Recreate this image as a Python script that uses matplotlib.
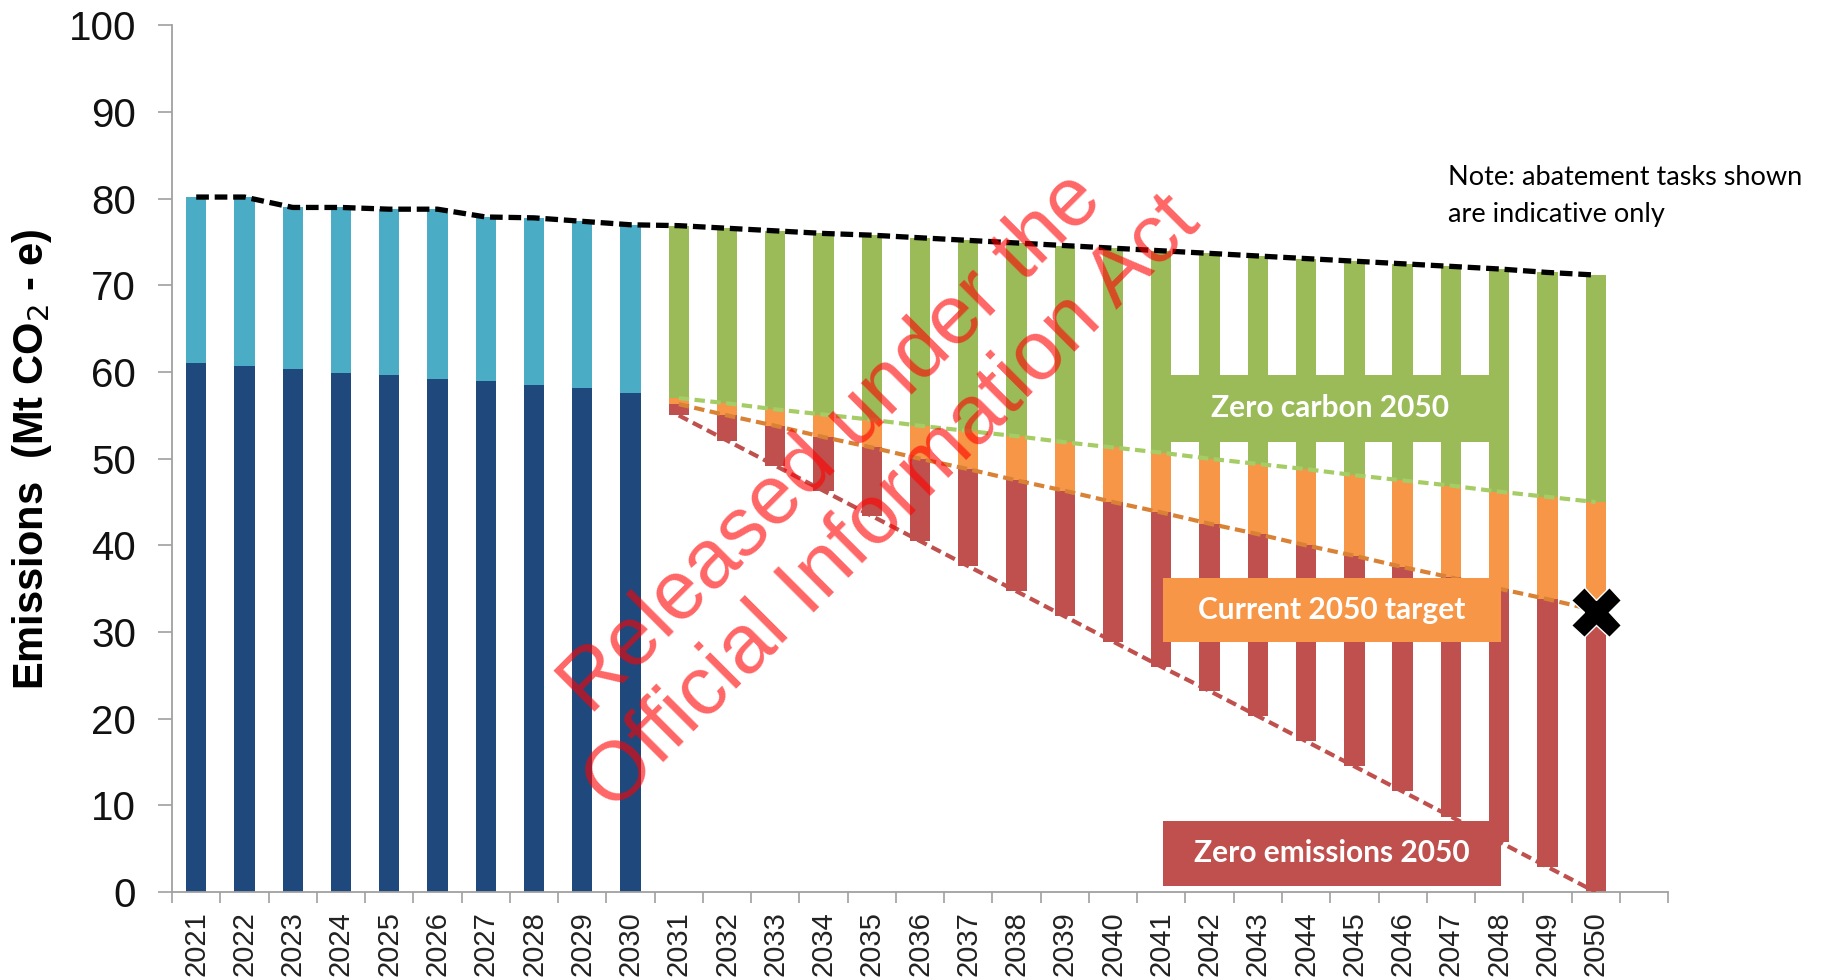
import numpy as np
import matplotlib
matplotlib.use("Agg")
import matplotlib.pyplot as plt
from matplotlib.patches import Rectangle

# historical / projected years
years_hist = [2021, 2022, 2023, 2024, 2025, 2026, 2027, 2028, 2029, 2030]
years_fut = list(range(2031, 2051))
years = years_hist + years_fut

# total emissions (black dashed line = top of each bar)
total = [80.2, 80.2, 79.0, 79.0, 78.8, 78.8, 77.9, 77.8, 77.4, 77.0,
         76.9, 76.6, 76.3, 76.0, 75.8, 75.5, 75.2, 74.9, 74.6, 74.3,
         74.0, 73.7, 73.4, 73.1, 72.8, 72.5, 72.2, 71.9, 71.5, 71.2]
# 2021-2030 lower (dark blue) segment
dark_blue = [61.0, 60.7, 60.3, 59.9, 59.7, 59.2, 59.0, 58.5, 58.2, 57.6]

# 2031-2050 pathway boundaries
green_line = [57.0, 56.4, 55.7, 55.1, 54.5, 53.8, 53.2, 52.6, 51.9, 51.3,
              50.7, 50.0, 49.4, 48.8, 48.1, 47.5, 46.9, 46.2, 45.6, 45.0]
orange_line = [56.3, 55.0, 53.8, 52.5, 51.3, 50.0, 48.8, 47.5, 46.3, 45.0,
               43.8, 42.5, 41.3, 40.0, 38.8, 37.5, 36.3, 35.0, 33.8, 32.5]
red_line = [55.0, 52.1, 49.2, 46.3, 43.4, 40.5, 37.6, 34.7, 31.8, 28.9,
            26.0, 23.2, 20.3, 17.4, 14.5, 11.6, 8.7, 5.8, 2.9, 0.0]

target_2050 = 32.3

C_DBLUE = "#1F497D"
C_LBLUE = "#4BACC6"
C_GREEN = "#9BBB59"
C_ORANGE = "#F79646"
C_RED = "#C0504D"

fig = plt.figure(figsize=(18.23, 9.80), dpi=100)
ax = fig.add_axes([0.0944, 0.0898, 0.8206, 0.8842])

w = 0.42
n_hist = len(years_hist)
xh = np.arange(n_hist)
xf = np.arange(n_hist, len(years))

# historical stacked bars
ax.bar(xh, dark_blue, width=w, color=C_DBLUE, zorder=2)
top_hist = [t - d for t, d in zip(total[:n_hist], dark_blue)]
ax.bar(xh, top_hist, bottom=dark_blue, width=w, color=C_LBLUE, zorder=2)

# future abatement bars
red_h = [o - r for o, r in zip(orange_line, red_line)]
orange_h = [g - o for g, o in zip(green_line, orange_line)]
green_h = [t - g for t, g in zip(total[n_hist:], green_line)]
ax.bar(xf, red_h, bottom=red_line, width=w, color=C_RED, zorder=2)
ax.bar(xf, orange_h, bottom=orange_line, width=w, color=C_ORANGE, zorder=2)
ax.bar(xf, green_h, bottom=green_line, width=w, color=C_GREEN, zorder=2)

# dashed pathway lines
ax.plot(np.arange(len(years)), total, color="black", lw=3.8,
        dashes=(2.4, 1.1), zorder=5)
ax.plot(xf, green_line, color="#A6CC66", lw=3.0, dashes=(2.5, 1.3), zorder=5)
ax.plot(xf, orange_line, color="#D98236", lw=3.0, dashes=(2.5, 1.3), zorder=5)
ax.plot(xf, red_line, color=C_RED, lw=3.0, dashes=(2.5, 1.3), zorder=5)

# 2050 target marker
ax.plot([xf[-1]], [target_2050], marker="X", color="black", ms=36,
        mec="white", mew=1, zorder=7, clip_on=False)

# label boxes
boxes = [
    ("Zero carbon 2050", C_GREEN, 20.15, 51.9, 6.7, 7.8),
    ("Current 2050 target", C_ORANGE, 20.03, 28.9, 7.0, 7.3),
    ("Zero emissions 2050", C_RED, 20.03, 0.7, 7.0, 7.5),
]
for label, col, bx, by, bw, bh in boxes:
    ax.add_patch(Rectangle((bx, by), bw, bh, facecolor=col, edgecolor="none",
                           zorder=6))
    ax.text(bx + bw / 2, by + bh / 2, label, color="white", fontsize=21.5,
            fontweight="bold", family="Lato", ha="center", va="center",
            zorder=8)

# note
ax.text(25.94, 82.4, "Note: abatement tasks shown", fontsize=19.5,
        family="Lato", ha="left", va="center", clip_on=False, zorder=8)
ax.text(25.94, 78.2, "are indicative only", fontsize=19.5,
        family="Lato", ha="left", va="center", clip_on=False, zorder=8)

# watermark
ax.text(13.8, 48.3, "Released under the\nOfficial Information Act",
        color="red", alpha=0.6, fontsize=60, family="Liberation Sans",
        rotation=45, rotation_mode="anchor", ha="center", va="center",
        linespacing=1.1, zorder=9)

# axes styling
ax.set_xlim(-0.5, 30.5)
ax.set_ylim(0, 100)
ax.set_yticks(range(0, 101, 10))
ax.set_xticks(range(len(years)))
ax.set_xticklabels([str(y) for y in years], rotation=90, fontsize=21,
                   family="Liberation Sans", color="#222222")
ax.set_xticks(np.arange(-0.5, 31, 1), minor=True)
ax.tick_params(axis="x", which="major", length=0, pad=14)
ax.tick_params(axis="x", which="minor", length=8, color="#a0a0a0", width=1.2)
ax.tick_params(axis="y", length=10, color="#a0a0a0", width=1.2, pad=16)
for lab in ax.get_yticklabels():
    lab.set_fontsize(29)
    lab.set_family("Liberation Sans")
    lab.set_color("#111111")

for s in ["top", "right"]:
    ax.spines[s].set_visible(False)
for s in ["left", "bottom"]:
    ax.spines[s].set_color("#a0a0a0")
    ax.spines[s].set_linewidth(1.3)

ax.set_ylabel("Emissions  (Mt CO$_2$ - e)", fontsize=30, fontweight="bold",
              family="Liberation Sans")
ax.yaxis.set_label_coords(-0.079, 0.5)

fig.savefig("out.png", dpi=100)
